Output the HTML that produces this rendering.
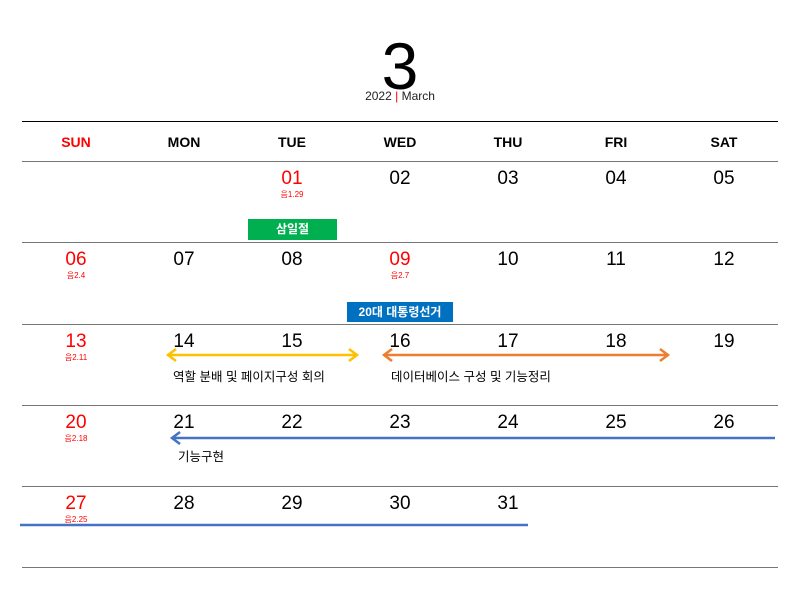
<!DOCTYPE html>
<html><head><meta charset="utf-8"><style>
body{margin:0;width:800px;height:600px;background:#fff;position:relative;overflow:hidden;font-family:"Liberation Sans","Noto Sans CJK KR",sans-serif}
.a{position:absolute}
.hl{position:absolute;left:22px;width:756px;height:1px;background:#777}
.dn{position:absolute;width:108px;text-align:center;font-size:19px;color:#000;top:0}
.red{color:#f00}
.lu{position:absolute;width:108px;text-align:center;font-size:8px;color:#f00}
.wd{position:absolute;width:108px;text-align:center;font-size:14px;font-weight:bold;top:134px}
.ev{position:absolute;font-size:12.5px;color:#000}
.tag{position:absolute;color:#fff;font-size:12px;font-weight:bold;text-align:center}
</style></head><body>
<div class="a" style="left:360px;top:33px;width:80px;text-align:center;font-size:66px;line-height:66px">3</div>
<div class="a" style="left:340px;top:89px;width:120px;text-align:center;font-size:12px;color:#222">2022 <span style="color:#f00">|</span> March</div>
<div class="hl" style="top:121px;background:#000"></div>
<div id="cal"></div>
<div class="tag" style="left:248px;top:219px;width:89px;height:21px;line-height:21px;background:#00b050">삼일절</div>
<div class="tag" style="left:347px;top:302px;width:106px;height:20px;line-height:20px;background:#0070c0">20대 대통령선거</div>
<svg class="a" style="left:0;top:0" width="800" height="600">
<g fill="none" stroke-width="2.5">
<g stroke="#ffc000"><line x1="168" y1="355" x2="357" y2="355"/><polyline points="176,349 168,355 176,361"/><polyline points="349,349 357,355 349,361"/></g>
<g stroke="#ed7d31"><line x1="384" y1="355" x2="668" y2="355"/><polyline points="392,349 384,355 392,361"/><polyline points="660,349 668,355 660,361"/></g>
<g stroke="#4472c4"><line x1="172" y1="438" x2="775" y2="438"/><polyline points="180,432 172,438 180,444"/></g>
<line stroke="#4472c4" x1="20" y1="525" x2="528" y2="525"/>
</g></svg>
<div class="ev" style="left:173px;top:366px">역할 분배 및 페이지구성 회의</div>
<div class="ev" style="left:391px;top:366px">데이터베이스 구성 및 기능정리</div>
<div class="ev" style="left:178px;top:446px">기능구현</div>
<script>
const weekdays=["SUN","MON","TUE","WED","THU","FRI","SAT"];
const weeks=[["","","01","02","03","04","05"],["06","07","08","09","10","11","12"],["13","14","15","16","17","18","19"],["20","21","22","23","24","25","26"],["27","28","29","30","31","",""]];
const redDays=["01","06","09","13","20","27"];
const lunar={"01":"음1.29","06":"음2.4","09":"음2.7","13":"음2.11","20":"음2.18","27":"음2.25"};
const cal=document.getElementById('cal');
const lines=[161,242,324,405,486,567];
lines.forEach((y,i)=>{const d=document.createElement('div');d.className='hl';d.style.top=y+'px';


cal.appendChild(d);});
weekdays.forEach((w,i)=>{const d=document.createElement('div');d.className='wd';d.style.left=(22+i*108)+'px';d.textContent=w;if(i==0)d.style.color='#f00';


cal.appendChild(d);});
weeks.forEach((wk,r)=>{wk.forEach((n,c)=>{if(!n)return;const d=document.createElement('div');d.className='dn'+(redDays.includes(n)?' red':'');d.style.left=(22+c*108)+'px';d.style.top=(168+r*81.3)+'px';d.textContent=n;


cal.appendChild(d);
if(lunar[n]){const l=document.createElement('div');l.className='lu';l.style.left=(22+c*108)+'px';l.style.top=(189+r*81.3)+'px';l.textContent=lunar[n];


cal.appendChild(l);}});});
</script>
</body></html>
